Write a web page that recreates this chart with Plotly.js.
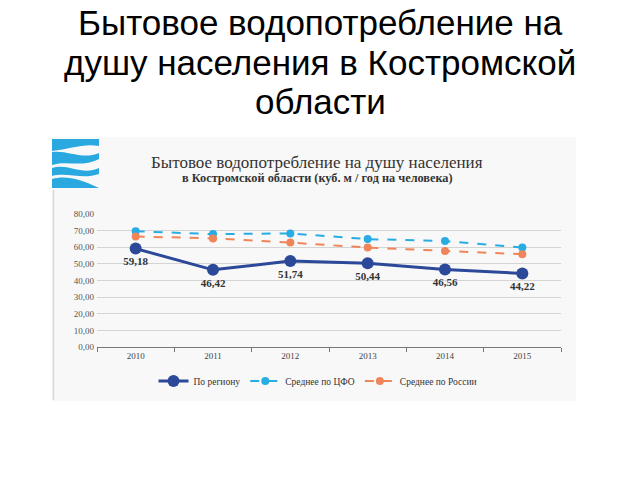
<!DOCTYPE html>
<html>
<head>
<meta charset="utf-8">
<script src="https://cdn.plot.ly/plotly-3.0.1.min.js"></script>
<style>html,body{margin:0;padding:0;background:#fff;}#chart{width:640px;height:480px;}</style>
</head>
<body>
<div id="chart"></div>
<script>
// Data
const years = ["2010", "2011", "2012", "2013", "2014", "2015"];
const region = [59.18, 46.42, 51.74, 50.44, 46.56, 44.22];
const cfo = [69.6, 67.9, 68.3, 64.9, 63.7, 59.8];
const russia = [66.5, 65.3, 62.8, 59.8, 57.8, 55.8];
const seriesNames = ["По региону", "Среднее по ЦФО", "Среднее по России"];
const yTicks = [0, 10, 20, 30, 40, 50, 60, 70, 80];
const slideTitle = ["Бытовое водопотребление на", "душу населения в Костромской", "области"];
const chartTitle = "Бытовое водопотребление на душу населения";
const chartSubtitle = "в Костромской области (куб. м / год на человека)";

// Plot area in pixels (for decoration placement)
const L = 97, R = 561, T = 214, B = 347;
const px = x => (x - L) / (R - L);
const py = y => (B - y) / (B - T);
function path(cmds) {
  return cmds.map(c => {
    const l = c[0];
    if (l === 'Z') return 'Z';
    const pts = [];
    for (let i = 1; i < c.length; i += 2) pts.push(px(c[i]).toFixed(4) + ',' + py(c[i + 1]).toFixed(4));
    return l + pts.join(' ');
  }).join(' ');
}

const serif = "Liberation Serif, Times New Roman, serif";
const sans = "Liberation Sans, Arial, sans-serif";
const logoBlue = "#2aa8e0";

const traces = [
  {
    x: years, y: region, name: seriesNames[0], type: "scatter", mode: "lines+markers+text",
    line: {color: "#2c4899", width: 3},
    marker: {color: "#2c4899", size: 12},
    texttemplate: "%{y:.2f}", textposition: "bottom center",
    textfont: {family: serif, size: 11, color: "#333", weight: "bold"},
    cliponaxis: false
  },
  {
    x: years, y: cfo, name: seriesNames[1], type: "scatter", mode: "lines+markers",
    line: {color: "#27ade3", width: 2, dash: "dash"},
    marker: {color: "#27ade3", size: 8}
  },
  {
    x: years, y: russia, name: seriesNames[2], type: "scatter", mode: "lines+markers",
    line: {color: "#ef8558", width: 2, dash: "dash"},
    marker: {color: "#ef8558", size: 8}
  }
];

const shapes = [
  {type: "rect", xref: "paper", yref: "paper", x0: px(52), x1: px(576), y0: py(401), y1: py(137),
   fillcolor: "#f8f8f8", line: {width: 0}, layer: "below"},
  {type: "line", xref: "paper", yref: "paper", x0: px(53.5), x1: px(53.5), y0: py(400), y1: py(190),
   line: {color: "#d8d8d8", width: 1.5}, layer: "below"},
  {type: "path", xref: "paper", yref: "paper", fillcolor: logoBlue, line: {width: 0}, layer: "above",
   path: path([["M", 52, 139], ["L", 99, 139], ["L", 99, 146], ["C", 84, 143, 70, 149, 52, 151], ["Z"]])},
  {type: "path", xref: "paper", yref: "paper", fillcolor: logoBlue, line: {width: 0}, layer: "above",
   path: path([["M", 52, 152], ["C", 68, 150, 82, 160, 99, 153], ["L", 99, 159], ["C", 82, 168, 68, 160, 52, 165], ["Z"]])},
  {type: "path", xref: "paper", yref: "paper", fillcolor: logoBlue, line: {width: 0}, layer: "above",
   path: path([["M", 52, 168], ["C", 68, 163, 82, 176, 99, 168], ["L", 99, 174], ["C", 82, 180, 68, 172, 52, 176], ["Z"]])},
  {type: "path", xref: "paper", yref: "paper", fillcolor: logoBlue, line: {width: 0}, layer: "above",
   path: path([["M", 52, 179], ["C", 66, 175, 80, 179, 99, 188], ["L", 52, 188], ["Z"]])}
];

const titleY = [22, 62, 101];
const annotations = slideTitle.map((t, i) => ({
  xref: "paper", yref: "paper", x: px(320), y: py(titleY[i]), xanchor: "center", yanchor: "middle",
  showarrow: false, text: t, font: {family: sans, size: 35, color: "#000"}
})).concat([
  {xref: "paper", yref: "paper", x: px(317), y: py(162), xanchor: "center", yanchor: "middle", showarrow: false,
   text: chartTitle, font: {family: serif, size: 17, color: "#333"}},
  {xref: "paper", yref: "paper", x: px(317), y: py(178), xanchor: "center", yanchor: "middle", showarrow: false,
   text: chartSubtitle, font: {family: serif, size: 12.3, color: "#333", weight: "bold"}}
]);

const layout = {
  width: 640, height: 480,
  paper_bgcolor: "#ffffff", plot_bgcolor: "rgba(0,0,0,0)",
  separators: ", ",
  margin: {l: L, r: 640 - R, t: T, b: 480 - B, pad: 0},
  showlegend: true,
  legend: {
    orientation: "h", x: px(318), xanchor: "center", y: py(381), yanchor: "middle",
    font: {family: serif, size: 9.5, color: "#333"}, bgcolor: "rgba(0,0,0,0)",
    itemwidth: 30, tracegroupgap: 0
  },
  xaxis: {
    type: "category", range: [-0.5, 5.5], tickson: "boundaries", ticks: "outside", ticklen: 4,
    tickcolor: "#777", showline: true, linecolor: "#777", linewidth: 1.2, showgrid: false,
    tickfont: {family: serif, size: 9, color: "#444"}, fixedrange: true
  },
  yaxis: {
    range: [0, 80], tickvals: yTicks, tickformat: ".2f", showline: false,
    gridcolor: "#d4d4d4", gridwidth: 1, zeroline: false,
    tickfont: {family: serif, size: 9, color: "#555"}, ticks: "", ticklabelstandoff: 2, fixedrange: true
  },
  shapes: shapes,
  annotations: annotations
};

Plotly.newPlot("chart", traces, layout, {displayModeBar: false, staticPlot: true});
</script>
</body>
</html>
